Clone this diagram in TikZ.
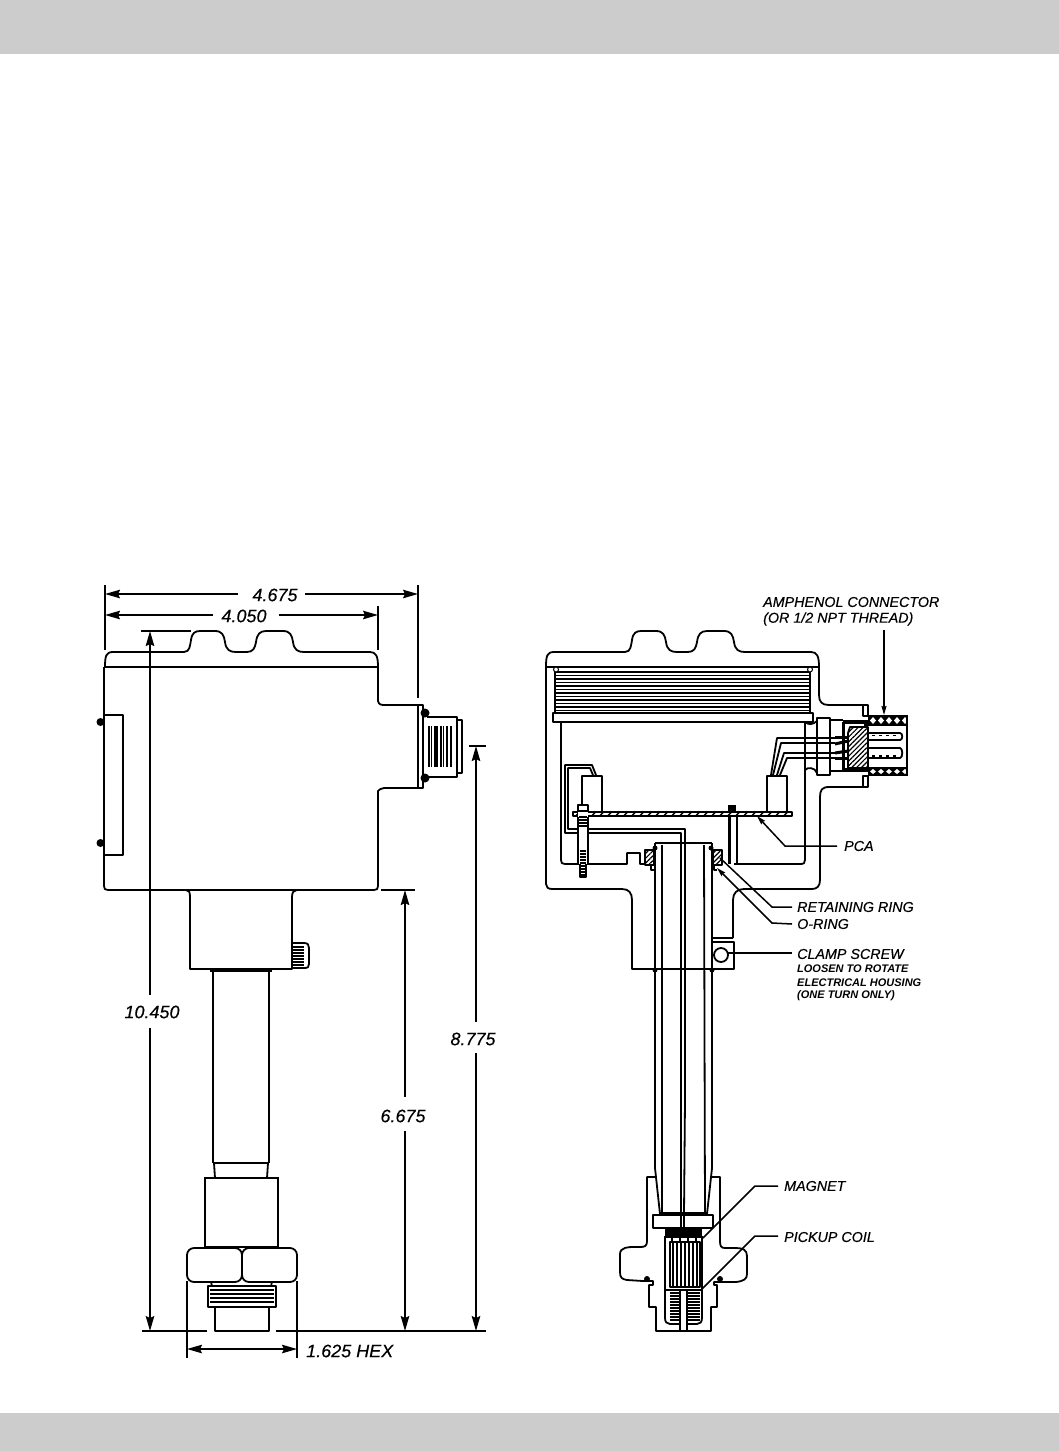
\documentclass[tikz,border=0pt]{standalone}
\usepackage{fontspec}
\setmainfont{Liberation Sans}[ItalicFeatures={FakeBold=0.35}]
\usetikzlibrary{arrows.meta,patterns.meta}
\def\capPath{(105,667) .. controls (105,656) and (106,652) .. (113,652) -- (184,652) .. controls (190,652) and (190,645) .. (191,640) .. controls (192,633) and (195,631) .. (200,631) -- (215,631) .. controls (222,631) and (224,635) .. (225,642) .. controls (226,650) and (230,652) .. (236,652) -- (247,652) .. controls (253,652) and (255,648) .. (256,642) .. controls (257,634) and (260,631) .. (266,631) -- (283,631) .. controls (290,631) and (292,635) .. (293,642) .. controls (294,650) and (298,652) .. (304,652) -- (370,652) .. controls (376,652) and (378,656) .. (378,667)}
\tikzset{
  ln/.style={line width=1.8pt,black,line join=round},
  thk/.style={line width=2.8pt,black},
  thn/.style={line width=1.1pt,black},
  dimline/.style={line width=1.6pt,black},
  dimarrow/.style={line width=1.6pt,black,{Stealth[length=15pt,width=8.5pt,inset=2pt]}-{Stealth[length=15pt,width=8.5pt,inset=2pt]}},
  endarrow/.style={line width=1.6pt,black,-{Stealth[length=15pt,width=8.5pt,inset=2pt]}},
  startarrow/.style={line width=1.6pt,black,{Stealth[length=15pt,width=8.5pt,inset=2pt]}-},
  leader/.style={line width=1.5pt,black},
  smallarrow/.style={line width=1.5pt,black,-{Stealth[length=9pt,width=5pt,inset=1pt]}},
  dimtext/.style={font=\itshape\fontsize{18}{18}\selectfont,inner sep=0pt},
  labeltext/.style={font=\itshape\fontsize{14.3}{15}\selectfont,inner sep=0pt,anchor=west},
  smalltext/.style={font=\itshape\bfseries\fontsize{11}{12}\selectfont,inner sep=0pt,anchor=west},
  hatch/.style={pattern={Lines[angle=45,distance=3.4pt,line width=1.2pt]},pattern color=black},
}
\begin{document}
\begin{tikzpicture}[x=1pt,y=-1pt]
\useasboundingbox (0,0) rectangle (1059,1451);
\fill[white] (0,0) rectangle (1059,1451);
\fill[black!20] (0,0) rectangle (1059,54);
\fill[black!20] (0,1413) rectangle (1059,1451);

%%% LEFT VIEW
\draw[ln] \capPath;
\draw[thk] (104,667) -- (378,667);
\draw[ln] (104,667) -- (104,886) .. controls (104,889) and (105,890) .. (108,890) -- (374,890) .. controls (377,890) and (378,889) .. (378,886) -- (378,791) .. controls (379,790) and (381,788) .. (384,788) -- (423,788) -- (423,705) -- (386,705) .. controls (381,705) and (379,705) .. (378,701) -- (378,667);
\draw[ln] (418,705) -- (418,788);
\draw[thk] (104,667) -- (104,886);
\draw[ln] (104,715) rectangle (123,855);
\fill (100.5,722) circle (4);
\fill (100.5,843) circle (4);
\fill (425,713) circle (4.5);
\fill (425,778) circle (4.5);
% connector
\draw[ln] (427,717) -- (457,717) -- (457,777) -- (427,777);
\draw[ln] (457,720) -- (462,720) -- (462,773) -- (457,773);
\foreach \x in {429,431.5,435,437,441,443.5,447,451}
  \draw[thn] (\x,726) -- (\x,767);
% neck
\draw[ln] (186,890) .. controls (189,890) and (190,892) .. (190,897) -- (190,969) -- (292,969) -- (292,897) .. controls (292,892) and (294,890) .. (297,890);
\draw[ln] (292,943) -- (304,943) .. controls (308,943) and (309,945) .. (309,948) -- (309,964) .. controls (309,967) and (308,968) .. (304,968) -- (292,968);
\foreach \y in {947,950,953,956,959,962,965}
  \draw[thn] (293,\y) -- (304,\y);
\draw[line width=3.5pt] (210,970.5) -- (272,970.5);
% stem
\draw[ln] (213,971) -- (213,1163);
\draw[thk] (269,971) -- (269,1163);
\draw[ln] (213,1163) -- (269,1163);
\draw[ln] (214,1163) -- (215,1178);
\draw[ln] (268,1163) -- (267,1178);
% hex block
\draw[thk] (205,1178) rectangle (278,1247);
\draw[ln,rounded corners=7] (187,1248) rectangle (242,1282);
\draw[ln,rounded corners=7] (242,1248) rectangle (297,1282);
\draw[ln] (211,1282) -- (212,1286);
\draw[ln] (272,1282) -- (271,1286);
\draw[ln] (208,1286) rectangle (276,1307);
\foreach \y in {1290,1294,1298,1302}
  \draw[thn] (210,\y) -- (274,\y);
\draw[ln] (215,1307) -- (215,1331) -- (269,1331) -- (269,1307);
% dimensions
\coordinate (d1a) at (105,594);
\coordinate (d1b) at (418,594);
\node[dimtext] (t4675) at (275,595) {4.675};
\draw[startarrow] (d1a) -- (238,594);
\draw[endarrow] (305,594) -- (d1b);
\draw[dimline] (105,585) -- (105,650);
\draw[dimline] (418,585) -- (418,698);
\coordinate (d2a) at (105,615);
\coordinate (d2b) at (378,615);
\node[dimtext] (t4050) at (244,616) {4.050};
\draw[startarrow] (d2a) -- (213,615);
\draw[endarrow] (279,615) -- (d2b);
\draw[dimline] (378,606) -- (378,650);
\draw[dimline] (141,631) -- (191,631);
\node[dimtext] (t10450) at (152,1012) {10.450};
\draw[startarrow] (150,631) -- (150,995);
\draw[endarrow] (150,1028) -- (150,1331);
\draw[dimline] (381,890) -- (415,890);
\node[dimtext] (t6675) at (403,1116) {6.675};
\draw[startarrow] (405,890) -- (405,1097);
\draw[endarrow] (405,1131) -- (405,1331);
\draw[dimline] (469,746) -- (486,746);
\node[dimtext] (t8775) at (473,1039) {8.775};
\draw[startarrow] (476,746) -- (476,1022);
\draw[endarrow] (476,1053) -- (476,1331);
\draw[line width=2pt] (142,1331) -- (207,1331);
\draw[line width=2pt] (276,1331) -- (486,1331);
\draw[dimline] (187,1281) -- (187,1358);
\draw[dimline] (297,1281) -- (297,1358);
\draw[dimarrow] (187,1349) -- (297,1349);
\node[dimtext,anchor=west] (thex) at (306,1351) {1.625\hspace{5pt}HEX};

%%% RIGHT VIEW
\begin{scope}[xshift=441pt]
\draw[ln] \capPath;
\end{scope}
\draw[thk] (546,667) -- (819,667);
% outer housing
\draw[ln] (546,667) -- (546,884) .. controls (546,887) and (548,889) .. (552,889) -- (622,889) .. controls (629,889) and (632,893) .. (632,900) -- (632,969) -- (712,969);
\draw[thk] (546,712) -- (546,850);
\draw[ln] (733,938) -- (733,900) .. controls (733,893) and (737,889) .. (744,889) -- (812,889) .. controls (817,889) and (820,886) .. (820,880) -- (820,797) .. controls (820,790) and (822,787) .. (829,787) -- (865,787);
\draw[ln] (819,667) -- (819,695) .. controls (819,702) and (822,705) .. (829,705) -- (865,705);
\draw[ln] (712,938) -- (733,938);
\draw[ln] (712,942) rectangle (734,969);
\draw[ln] (721,955) circle (7);
\fill (655,970) circle (2.5);
\fill (712,970) circle (2.5);
% cavity
\draw[ln] (561,722) -- (561,860) .. controls (561,863) and (562,864) .. (565,864) -- (627,864) -- (627,853) -- (640,853) -- (640,864) -- (645,864);
\draw[ln] (734,864) -- (800,864) .. controls (804,864) and (805,863) .. (805,860) -- (805,723);
% thread insert
\draw[ln] (553,713) rectangle (813,722);
\draw[ln] (555,669) -- (555,713);
\draw[ln] (810,669) -- (810,713);
\foreach \y in {672,675.5,679,682.5,686,689.5,693,696.5,700,703.5,707,710.5}
  \draw[line width=1.1pt] (555,\y) -- (810,\y);
\foreach \y in {679,693,703.5}
  \draw[line width=1.9pt] (555,\y) -- (810,\y);
\fill[white,draw=black,line width=1pt] (556,669.5) circle (2.5);
\fill[white,draw=black,line width=1pt] (810,669.5) circle (2.5);
% board
\draw[ln] (573,812) rectangle (792,816);
\foreach \x in {576,584,...,788}
  \draw[line width=1.4pt] (\x,815.5) -- (\x+3,812.5);
% components
\draw[ln] (582,812) -- (582,776) -- (602,776) -- (602,812);
\draw[ln] (767,812) -- (767,776) -- (787,776) -- (787,812);
% wires to left comp
\draw[ln] (596,775) -- (592,765) -- (565,765) -- (565,833) -- (681,833) -- (681,1214);
\draw[ln] (593,775) -- (590,768) -- (568,768) -- (568,829) -- (685,829) -- (685,1100) -- (684,1214);
% screw
\fill[white] (578,805) rectangle (588,877);
\draw[ln] (578,805) rectangle (588,811);
\draw[ln] (578,817) -- (578,865);
\draw[ln] (588,817) -- (588,865);
\foreach \y in {817,820,823,826}
  \draw[line width=1.5pt] (579,\y) -- (587,\y);
\foreach \y in {851,854,...,876}
  \draw[line width=1.5pt] (580,\y) -- (586,\y);
\draw[ln] (580,864) -- (580,877) -- (586,877) -- (586,864);
% standoff
\fill (728,805) rectangle (736,812);
\draw[line width=3pt] (729,816) -- (729,864);
\draw[ln] (737,816) -- (737,864);
% stem
\draw[ln] (655,843) -- (712,843);
\draw[ln] (655,843) -- (655,1168) -- (660,1214);
\draw[ln] (662,845) -- (662,1214);
\draw[ln] (704,845) -- (705,1214);
\draw[ln] (712,843) -- (712,1168) -- (707,1214);
% retaining rings
\draw[ln,hatch] (645,850) rectangle (654,865);
\draw[ln,hatch] (713,850) rectangle (722,865);
\fill (655,848) circle (2.5);
\fill (711,848) circle (2.5);
\draw[ln] (651,865) -- (651,870) -- (654,870);
\draw[ln] (714,865) -- (714,870) -- (717,870);
% connector section
\draw[ln] (805,722) .. controls (809,725) and (812,725) .. (817,721);
\draw[ln] (805,770) .. controls (807,767) and (815,767) .. (817,773);
\draw[ln] (817,718) rectangle (830,775);
\draw[ln] (830,720) -- (843,720);
\draw[ln] (830,771) -- (843,771);
\draw[ln] (863,705) rectangle (868,716);
\draw[ln] (863,776) rectangle (868,787);
% braid
\fill (868,715) rectangle (908,726);
\fill (868,767) rectangle (908,776);
\foreach \x in {873,881,...,905}{
  \fill[white] (\x,717) -- (\x+3,720.5) -- (\x,724) -- (\x-3,720.5) -- cycle;
  \fill[white] (\x,769) -- (\x+3,771.5) -- (\x,774) -- (\x-3,771.5) -- cycle;
}
\draw[ln] (907,716) -- (907,775);
\draw[ln,hatch] (850,727) -- (868,727) -- (868,768) -- (848,768) -- (848,733) -- cycle;
\draw[line width=4pt] (843,722) -- (866,722) -- (866,726);
\draw[line width=4pt] (843,770) -- (868,770);
\draw[line width=3pt] (843,722) -- (843,771);
% pins
\draw[ln] (868,733) -- (900,733) .. controls (903,733) and (903,740) .. (900,740) -- (868,740);
\draw[ln] (868,748) -- (900,748) .. controls (903,748) and (903,758) .. (900,758) -- (868,758);
\foreach \x in {872,879,...,898}{
  \draw[line width=1.4pt] (\x,735.5) -- (\x+3,735.5);
  \draw[line width=1.4pt] (\x,756) -- (\x+3,756);
}
% terminals
\draw[line width=3pt] (835,737) -- (848,737);
\draw[line width=3pt] (835,744) -- (848,741);
\draw[line width=3pt] (835,753) -- (848,751);
\draw[line width=3pt] (835,758) -- (848,758);
% wires
\draw[ln] (771,775) -- (777,738) -- (835,738);
\draw[ln] (773,775) -- (781,743) -- (835,743);
\draw[ln] (777,775) -- (784,753) -- (835,753);
\draw[ln] (780,775) -- (787,758) -- (835,758);
% lower body
\draw[ln] (655,1177) -- (647,1177) -- (647,1241) .. controls (647,1246) and (645,1247) .. (640,1247) -- (634,1247) .. controls (629,1247) and (620,1247) .. (620,1254) -- (620,1272) .. controls (620,1278) and (622,1279) .. (627,1280) -- (643,1281) -- (653,1281) -- (653,1285) -- (649,1285) -- (649,1307) -- (656,1307) -- (656,1331) -- (711,1331) -- (711,1307) -- (717,1307) -- (717,1285) -- (714,1285) -- (714,1282) -- (736,1282) .. controls (744,1281) and (747,1279) .. (747,1274) -- (747,1256) .. controls (747,1250) and (743,1248) .. (736,1248) -- (725,1248) .. controls (721,1248) and (720,1246) .. (720,1241) -- (720,1177) -- (711,1177);
\fill (647,1279) circle (3);
\fill (720,1279) circle (3);
% flange
\draw[ln] (653,1215) rectangle (713,1228);
\draw[line width=3.4pt] (659,1214) -- (708,1214);
\draw[ln] (681,1215) -- (681,1228);
\draw[ln] (684,1215) -- (684,1228);
\fill (665,1228) rectangle (702,1238);
\draw[ln] (665,1236) -- (665,1318) .. controls (665,1322) and (667,1324) .. (670,1324) -- (680,1324);
\draw[ln] (702,1236) -- (702,1318) .. controls (702,1322) and (700,1324) .. (697,1324) -- (687,1324);
% magnet
\draw[ln] (670,1242) rectangle (700,1287);
\foreach \x in {673,677,...,697}
  \draw[thn] (\x,1243) -- (\x,1286);
\foreach \x in {672,680,688,696}
  \draw[thn] (\x,1236) -- (\x,1242);
% coils
\draw[ln] (665,1290) -- (702,1290);
\foreach \y in {1293,1296,...,1321}{
  \draw[thn] (670,\y) -- (680,\y);
  \draw[thn] (688,\y) -- (700,\y);
}
\draw[ln] (680,1290) -- (680,1331);
\draw[ln] (687,1290) -- (687,1331);
% labels
\node[labeltext] (amph) at (763,602) {AMPHENOL CONNECTOR};
\node[labeltext] (amph2) at (763,619) {(OR 1/2 NPT THREAD)};
\coordinate (amphend) at (884,715);
\draw[smallarrow] (884,630) -- (amphend);
\node[labeltext] (pca) at (844,846) {PCA};
\coordinate (pcaend) at (757,816);
\draw[smallarrow] (pca.west)++(-7,0) -- (785,846) -- (pcaend);
\node[labeltext] (retain) at (797,907) {RETAINING RING};
\coordinate (retainend) at (720,858);
\draw[leader] (retain.west)++(-5,0) -- (772,907) -- (retainend);
\node[labeltext] (oring) at (797,924) {O-RING};
\coordinate (oringend) at (717,868);
\draw[smallarrow] (oring.west)++(-5,0) -- (772,923) -- (oringend);
\node[labeltext] (clamp) at (797,954) {CLAMP SCREW};
\coordinate (clampend) at (728,953);
\draw[leader] (clamp.west)++(-5,-1) -- (clampend);
\node[smalltext] (l1) at (797,969) {LOOSEN TO ROTATE};
\node[smalltext] (l2) at (797,983) {ELECTRICAL HOUSING};
\node[smalltext] (l3) at (797,996) {(ONE TURN ONLY)};
\node[labeltext] (magnet) at (784,1186) {MAGNET};
\coordinate (magend) at (703,1238);
\draw[leader] (magnet.west)++(-6,0) -- (755,1186) -- (magend);
\node[labeltext] (coil) at (784,1237) {PICKUP COIL};
\coordinate (coilend) at (702,1289);
\draw[leader] (coil.west)++(-6,-1) -- (755,1236) -- (coilend);
\end{tikzpicture}
\end{document}
